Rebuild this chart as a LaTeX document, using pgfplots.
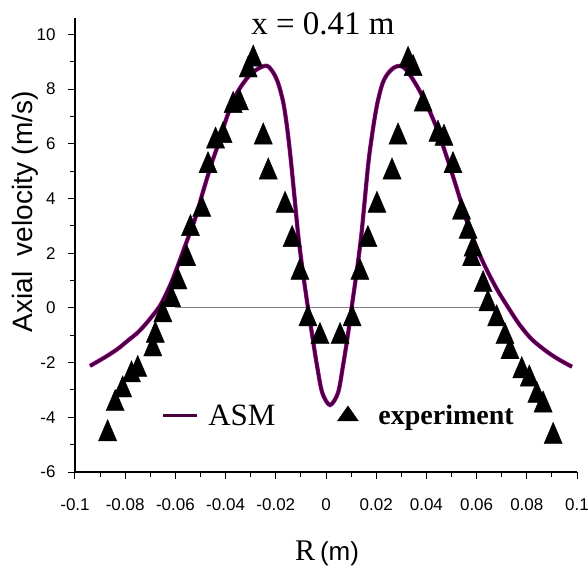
\documentclass[border=0pt]{standalone}
\usepackage{fontspec}
\setmainfont{Liberation Serif}
\newfontfamily\arial{Liberation Sans}
\usepackage{pgfplots}
\usepackage{pgfplotstable}
\pgfplotsset{compat=1.18}
\definecolor{asm}{RGB}{72,0,62}
\definecolor{asmedge}{RGB}{175,0,165}
\pgfplotsset{
  longline/.style={legend image code/.code={\draw[##1] (0pt,0pt) -- (34pt,0pt); \path (42pt,0pt);}}
}

% ASM prediction
\pgfplotstableread{
x y
-0.094 -2.12
-0.088 -1.80
-0.083 -1.50
-0.079 -1.20
-0.075 -0.90
-0.071 -0.50
-0.066 0.10
-0.062 0.85
-0.059 1.55
-0.056 2.30
-0.052 3.30
-0.049 4.25
-0.0455 5.30
-0.0425 6.10
-0.0394 7.00
-0.0355 7.85
-0.031 8.45
-0.027 8.75
-0.0235 8.85
-0.021 8.60
-0.019 8.20
-0.017 7.50
-0.0155 6.60
-0.014 5.40
-0.0125 4.00
-0.011 2.60
-0.0092 1.30
-0.0075 0.20
-0.0055 -1.00
-0.0036 -2.10
-0.0015 -3.10
0.0016 -3.55
0.0048 -3.10
0.0068 -2.10
0.0087 -1.00
0.0105 0.20
0.0122 1.30
0.014 2.60
0.0155 4.00
0.017 5.40
0.0188 6.60
0.0205 7.50
0.0225 8.20
0.0245 8.55
0.027 8.78
0.0295 8.85
0.032 8.70
0.036 8.15
0.040 7.45
0.044 6.60
0.048 5.55
0.052 4.40
0.056 3.20
0.060 2.20
0.064 1.40
0.068 0.70
0.072 0.10
0.077 -0.60
0.082 -1.15
0.088 -1.60
0.093 -1.90
0.098 -2.15
}\asmdata

% experiment
\pgfplotstableread{
x y
-0.087 -4.6
-0.084 -3.5
-0.081 -3.0
-0.0775 -2.45
-0.075 -2.25
-0.069 -1.5
-0.068 -1.0
-0.065 -0.25
-0.0615 0.3
-0.059 0.95
-0.0555 1.8
-0.054 2.9
-0.0495 3.6
-0.047 5.2
-0.044 6.1
-0.041 6.3
-0.037 7.4
-0.0345 7.5
-0.031 8.7
-0.029 9.1
-0.025 6.25
-0.023 4.97
-0.0163 3.75
-0.0135 2.5
-0.0104 1.3
-0.0072 -0.4
-0.0024 -1.05
0.0056 -1.05
0.0104 -0.4
0.0135 1.3
0.0167 2.5
0.0203 3.75
0.0263 4.97
0.0287 6.25
0.0327 9.05
0.0347 8.75
0.0387 7.45
0.0446 6.35
0.047 6.2
0.0506 5.2
0.054 3.5
0.0566 2.8
0.0586 2.15
0.058 1.8
0.0626 0.85
0.0645 0.15
0.068 -0.4
0.0713 -1.05
0.0733 -1.6
0.078 -2.3
0.081 -2.6
0.084 -3.2
0.0865 -3.55
0.0905 -4.7
}\expdata

\begin{document}
\begin{tikzpicture}
\path[use as bounding box] (-75pt,-95pt) rectangle (513pt,472pt);
\begin{axis}[
    scale only axis,
    width=502pt, height=454pt,
    xmin=-0.1, xmax=0.1,
    ymin=-6, ymax=10.6,
    axis lines=left,
    axis line style={-, line width=1.3pt},
    xtick={-0.1,-0.08,-0.06,-0.04,-0.02,0,0.02,0.04,0.06,0.08,0.1},
    xticklabels={-0.1,-0.08,-0.06,-0.04,-0.02,0,0.02,0.04,0.06,0.08,0.1},
    minor xtick={-0.09,-0.07,-0.05,-0.03,-0.01,0.01,0.03,0.05,0.07,0.09},
    ytick={-6,-4,-2,0,2,4,6,8,10},
    yticklabels={-6,-4,-2,0,2,4,6,8,10},
    minor ytick={-5,-3,-1,1,3,5,7,9},
    tick align=outside,
    major tick length=7pt, minor tick length=5pt,
    tick style={black, line width=1pt},
    ticklabel style={font=\arial\fontsize{17}{17}\selectfont},
    xticklabel style={yshift=-16pt},
    yticklabel style={xshift=-9pt},
    xlabel={\fontsize{30}{30}\selectfont R\,{\arial\fontsize{26}{26}\selectfont(m)}},
    xlabel style={at={(axis description cs:0.502,-0.18)}, anchor=center},
    ylabel={\arial\fontsize{28}{28}\selectfont Axial\ \ velocity (m/s)},
    ylabel style={at={(axis description cs:-0.10,0.573)}, anchor=center},
    title={\fontsize{33}{33}\selectfont x = 0.41 m},
    title style={at={(axis description cs:0.494,0.9495)}, anchor=base},
    legend columns=2,
    legend style={at={(axis cs:-0.0669,-3.95)}, anchor=west, draw=none, fill=none,
        font=\fontsize{31}{32}\selectfont,
        /tikz/every even column/.append style={column sep=60pt}},
]
% zero line
\addplot[gray, line width=1pt, forget plot] coordinates {(-0.06,0) (0.0625,0)};

\addplot[asmedge, line width=4.2pt, smooth, tension=0.5, forget plot] table {\asmdata};
\addplot[asm, line width=3pt, smooth, tension=0.5, longline] table {\asmdata};
\addlegendentry{ASM}

\addplot[only marks, mark=triangle*, mark size=10.5pt,
    mark options={black, yscale=1.35},
    legend image post style={mark options={black, xscale=1.15, yscale=0.95}}] table {\expdata};
\addlegendentry{\hspace{18pt}\fontsize{28}{32}\selectfont\bfseries experiment}
\end{axis}
\end{tikzpicture}
\end{document}
